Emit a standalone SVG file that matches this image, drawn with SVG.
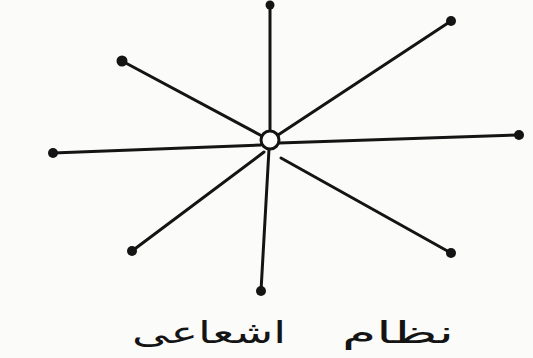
<svg xmlns="http://www.w3.org/2000/svg" width="533" height="358" viewBox="0 0 533 358">
<style>
.ray{stroke:#141414;stroke-width:3;stroke-linecap:round;fill:none}
.dot{fill:#141414}
.hub{fill:#fcfcfa;stroke:#141414;stroke-width:3}
.cap{font-family:"DejaVu Sans",sans-serif;font-size:30px;fill:#141414}
</style>
<rect width="533" height="358" fill="#fbfbf9"/>
<g id="connectors">
<line class="ray" x1="270" y1="131" x2="270" y2="5"/>
<line class="ray" x1="278" y1="135" x2="451" y2="21"/>
<line class="ray" x1="279" y1="143" x2="519" y2="135"/>
<line class="ray" x1="281" y1="158" x2="451" y2="253"/>
<line class="ray" x1="269" y1="149" x2="261" y2="291"/>
<line class="ray" x1="264" y1="152" x2="132" y2="251"/>
<line class="ray" x1="261" y1="145" x2="53" y2="153"/>
<line class="ray" x1="262" y1="136" x2="122" y2="61"/>
</g>
<g id="hub"><circle class="hub" cx="270" cy="140" r="9"/></g>
<g id="n-top"><circle class="dot" cx="270" cy="5" r="4.5"/></g>
<g id="n-upper-right"><circle class="dot" cx="451" cy="21" r="5"/></g>
<g id="n-right"><circle class="dot" cx="519" cy="135" r="5"/></g>
<g id="n-lower-right"><circle class="dot" cx="451" cy="253" r="5"/></g>
<g id="n-bottom"><circle class="dot" cx="261" cy="291" r="5"/></g>
<g id="n-lower-left"><circle class="dot" cx="132" cy="251" r="5"/></g>
<g id="n-left"><circle class="dot" cx="53" cy="153" r="5"/></g>
<g id="n-upper-left"><circle class="dot" cx="122" cy="61" r="5.5"/></g>
<g id="caption">
<text class="cap" x="132" y="343" textLength="154" lengthAdjust="spacingAndGlyphs">اشعاعی</text>
<text class="cap" x="342" y="343" textLength="112" lengthAdjust="spacingAndGlyphs">نظام</text>
</g>
</svg>
